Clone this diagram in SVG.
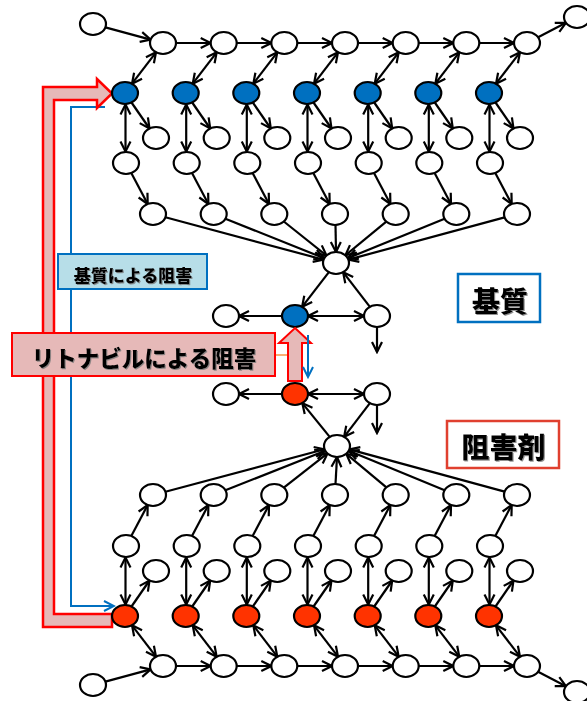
<svg xmlns="http://www.w3.org/2000/svg" width="587" height="701" viewBox="0 0 587 701">
<style>
.n{fill:#fff;stroke:#000;stroke-width:2.2}
.b{fill:#0070c0;stroke:#000;stroke-width:2.2}
.r{fill:#ff3300;stroke:#000;stroke-width:2.2}
.e line{stroke:#000;stroke-width:2.2;fill:none}
.s{marker-end:url(#ah)}
.d{marker-start:url(#ah);marker-end:url(#ah)}
.jp{font-family:"Noto Sans CJK JP","Noto Sans CJK SC",sans-serif;font-weight:900;fill:#000;text-anchor:middle;dominant-baseline:central;filter:url(#sh)}
</style>
<defs>
<filter id="sh" x="-10%" y="-20%" width="120%" height="140%"><feDropShadow dx="1" dy="1" stdDeviation="0.6" flood-color="#777" flood-opacity="0.8"/></filter>
<marker id="ah" viewBox="0 0 13 13" refX="11.5" refY="6.5" markerWidth="13" markerHeight="13" markerUnits="userSpaceOnUse" orient="auto-start-reverse"><path d="M1.5,1.5 L11.5,6.5 L1.5,11.5" fill="none" stroke="#000" stroke-width="2.2"/></marker>
<marker id="bh" viewBox="0 0 13 13" refX="11.5" refY="6.5" markerWidth="13" markerHeight="13" markerUnits="userSpaceOnUse" orient="auto"><path d="M1.5,1.5 L11.5,6.5 L1.5,11.5" fill="none" stroke="#0070c0" stroke-width="2"/></marker>
</defs>
<rect width="587" height="701" fill="#fff"/>

<!-- inhibition arrows (background) -->
<g id="substrate-inhibition-line">
<polyline points="105,107 71,107 71,606 114,606" fill="none" stroke="#0070c0" stroke-width="2" marker-end="url(#bh)"/>
</g>
<g id="ritonavir-arrow">
<polygon points="43,87 97,87 97,79 112,93.5 97,108 97,100 54,100 54,614 112,614 112,627 43,627" fill="#e6b9b8" stroke="#ff0000" stroke-width="2.5" stroke-linejoin="miter"/>
</g>

<!-- connectors -->
<g class="e" id="connectors">
<!-- top chain -->
<line class="s" x1="105.4" y1="27.4" x2="150.6" y2="39.6"/>
<line class="s" x1="176" y1="43" x2="210.7" y2="43"/>
<line class="s" x1="236.7" y1="43" x2="271.3" y2="43"/>
<line class="s" x1="297.3" y1="43" x2="332" y2="43"/>
<line class="s" x1="358" y1="43" x2="392.7" y2="43"/>
<line class="s" x1="418.7" y1="43" x2="453.3" y2="43"/>
<line class="s" x1="479.3" y1="43" x2="514" y2="43"/>
<line class="s" x1="538.1" y1="37.2" x2="565.9" y2="22.8"/>
<!-- A<->B top -->
<line class="d" x1="156" y1="52.3" x2="132" y2="83.7"/>
<line class="d" x1="216.7" y1="52.3" x2="192.7" y2="83.7"/>
<line class="d" x1="277.3" y1="52.3" x2="253.3" y2="83.7"/>
<line class="d" x1="338" y1="52.3" x2="314" y2="83.7"/>
<line class="d" x1="398.7" y1="52.3" x2="374.7" y2="83.7"/>
<line class="d" x1="459.3" y1="52.3" x2="435.3" y2="83.7"/>
<line class="d" x1="520" y1="52.3" x2="496" y2="83.7"/>
<!-- B<->D top -->
<line class="d" x1="125.5" y1="104.5" x2="125.5" y2="151.5"/>
<line class="d" x1="186.2" y1="104.5" x2="186.2" y2="151.5"/>
<line class="d" x1="246.8" y1="104.5" x2="246.8" y2="151.5"/>
<line class="d" x1="307.5" y1="104.5" x2="307.5" y2="151.5"/>
<line class="d" x1="368.2" y1="104.5" x2="368.2" y2="151.5"/>
<line class="d" x1="428.8" y1="104.5" x2="428.8" y2="151.5"/>
<line class="d" x1="489.5" y1="104.5" x2="489.5" y2="151.5"/>
<!-- B->C top -->
<line class="s" x1="131.5" y1="102.5" x2="149.5" y2="128.5"/>
<line class="s" x1="192.2" y1="102.5" x2="210.2" y2="128.5"/>
<line class="s" x1="252.8" y1="102.5" x2="270.8" y2="128.5"/>
<line class="s" x1="313.5" y1="102.5" x2="331.5" y2="128.5"/>
<line class="s" x1="374.2" y1="102.5" x2="392.2" y2="128.5"/>
<line class="s" x1="434.8" y1="102.5" x2="452.8" y2="128.5"/>
<line class="s" x1="495.5" y1="102.5" x2="513.5" y2="128.5"/>
<!-- D->E top -->
<line class="s" x1="131.3" y1="173" x2="147.7" y2="204"/>
<line class="s" x1="192" y1="173" x2="208.4" y2="204"/>
<line class="s" x1="252.6" y1="173" x2="269" y2="204"/>
<line class="s" x1="313.3" y1="173" x2="329.7" y2="204"/>
<line class="s" x1="374" y1="173" x2="390.4" y2="204"/>
<line class="s" x1="434.6" y1="173" x2="451" y2="204"/>
<line class="s" x1="495.3" y1="173" x2="511.7" y2="204"/>
<!-- E->N top -->
<line class="s" x1="165.4" y1="217.3" x2="323.6" y2="259.7"/>
<line class="s" x1="225.4" y1="218.7" x2="324.3" y2="258.3"/>
<line class="s" x1="283.8" y1="221.5" x2="326.5" y2="255.5"/>
<line class="s" x1="335.5" y1="225" x2="336" y2="252"/>
<line class="s" x1="386.3" y1="221.7" x2="345.4" y2="255.3"/>
<line class="s" x1="444.6" y1="218.8" x2="347.7" y2="258.2"/>
<line class="s" x1="504.6" y1="217.4" x2="348.4" y2="259.6"/>
<!-- middle top -->
<line class="s" x1="328.9" y1="272.2" x2="302.1" y2="306.8"/>
<line class="d" x1="308" y1="316" x2="364" y2="316"/>
<line class="s" x1="282" y1="316" x2="239" y2="316"/>
<line class="s" x1="369.9" y1="306.8" x2="343.1" y2="272.2"/>
<line class="s" x1="377" y1="327" x2="377" y2="352"/>
<!-- middle bottom -->
<line class="s" x1="329.7" y1="436.9" x2="302.3" y2="403.1"/>
<line class="d" x1="308" y1="394" x2="364" y2="394"/>
<line class="s" x1="282" y1="394" x2="239" y2="394"/>
<line class="s" x1="369.9" y1="403.2" x2="344.1" y2="436.8"/>
<line class="s" x1="377" y1="405" x2="377" y2="433"/>
<!-- E'->N' bottom -->
<line class="s" x1="165.4" y1="491.7" x2="324.6" y2="449.3"/>
<line class="s" x1="225.4" y1="490.3" x2="325.2" y2="450.7"/>
<line class="s" x1="283.8" y1="487.6" x2="327.5" y2="453.4"/>
<line class="s" x1="335.5" y1="484" x2="337" y2="457"/>
<line class="s" x1="386.4" y1="487.3" x2="346.3" y2="453.8"/>
<line class="s" x1="444.6" y1="490.2" x2="348.7" y2="450.8"/>
<line class="s" x1="504.6" y1="491.6" x2="349.4" y2="449.4"/>
<!-- D'->E' bottom -->
<line class="s" x1="131.3" y1="536" x2="147.7" y2="505"/>
<line class="s" x1="192" y1="536" x2="208.4" y2="505"/>
<line class="s" x1="252.6" y1="536" x2="269" y2="505"/>
<line class="s" x1="313.3" y1="536" x2="329.7" y2="505"/>
<line class="s" x1="374" y1="536" x2="390.4" y2="505"/>
<line class="s" x1="434.6" y1="536" x2="451" y2="505"/>
<line class="s" x1="495.3" y1="536" x2="511.7" y2="505"/>
<!-- B'<->D' bottom -->
<line class="d" x1="125.5" y1="604.5" x2="125.5" y2="557.5"/>
<line class="d" x1="186.2" y1="604.5" x2="186.2" y2="557.5"/>
<line class="d" x1="246.8" y1="604.5" x2="246.8" y2="557.5"/>
<line class="d" x1="307.5" y1="604.5" x2="307.5" y2="557.5"/>
<line class="d" x1="368.2" y1="604.5" x2="368.2" y2="557.5"/>
<line class="d" x1="428.8" y1="604.5" x2="428.8" y2="557.5"/>
<line class="d" x1="489.5" y1="604.5" x2="489.5" y2="557.5"/>
<!-- B'->C' bottom -->
<line class="s" x1="131.5" y1="606.5" x2="149.5" y2="580.5"/>
<line class="s" x1="192.2" y1="606.5" x2="210.2" y2="580.5"/>
<line class="s" x1="252.8" y1="606.5" x2="270.8" y2="580.5"/>
<line class="s" x1="313.5" y1="606.5" x2="331.5" y2="580.5"/>
<line class="s" x1="374.2" y1="606.5" x2="392.2" y2="580.5"/>
<line class="s" x1="434.8" y1="606.5" x2="452.8" y2="580.5"/>
<line class="s" x1="495.5" y1="606.5" x2="513.5" y2="580.5"/>
<!-- A'<->B' bottom -->
<line class="d" x1="156" y1="656.7" x2="132" y2="625.3"/>
<line class="d" x1="216.7" y1="656.7" x2="192.7" y2="625.3"/>
<line class="d" x1="277.3" y1="656.7" x2="253.3" y2="625.3"/>
<line class="d" x1="338" y1="656.7" x2="314" y2="625.3"/>
<line class="d" x1="398.7" y1="656.7" x2="374.7" y2="625.3"/>
<line class="d" x1="459.3" y1="656.7" x2="435.3" y2="625.3"/>
<line class="d" x1="520" y1="656.7" x2="496" y2="625.3"/>
<!-- bottom chain -->
<line class="s" x1="105.4" y1="681.6" x2="150.6" y2="669.4"/>
<line class="s" x1="176" y1="666" x2="210.7" y2="666"/>
<line class="s" x1="236.7" y1="666" x2="271.3" y2="666"/>
<line class="s" x1="297.3" y1="666" x2="332" y2="666"/>
<line class="s" x1="358" y1="666" x2="392.7" y2="666"/>
<line class="s" x1="418.7" y1="666" x2="453.3" y2="666"/>
<line class="s" x1="479.3" y1="666" x2="514" y2="666"/>
<line class="s" x1="538.1" y1="671.8" x2="565.9" y2="686.2"/>
</g>

<!-- top nodes -->
<g id="s0"><ellipse class="n" cx="93" cy="24" rx="13" ry="11"/></g>
<g id="a1"><ellipse class="n" cx="163" cy="43" rx="13" ry="11"/></g>
<g id="a2"><ellipse class="n" cx="223.7" cy="43" rx="13" ry="11"/></g>
<g id="a3"><ellipse class="n" cx="284.3" cy="43" rx="13" ry="11"/></g>
<g id="a4"><ellipse class="n" cx="345" cy="43" rx="13" ry="11"/></g>
<g id="a5"><ellipse class="n" cx="405.7" cy="43" rx="13" ry="11"/></g>
<g id="a6"><ellipse class="n" cx="466.3" cy="43" rx="13" ry="11"/></g>
<g id="a7"><ellipse class="n" cx="527" cy="43" rx="13" ry="11"/></g>
<g id="t0"><ellipse class="n" cx="577" cy="17" rx="13" ry="11"/></g>
<g id="b1"><ellipse class="b" cx="125" cy="93" rx="13" ry="11"/></g>
<g id="b2"><ellipse class="b" cx="185.7" cy="93" rx="13" ry="11"/></g>
<g id="b3"><ellipse class="b" cx="246.3" cy="93" rx="13" ry="11"/></g>
<g id="b4"><ellipse class="b" cx="307" cy="93" rx="13" ry="11"/></g>
<g id="b5"><ellipse class="b" cx="367.7" cy="93" rx="13" ry="11"/></g>
<g id="b6"><ellipse class="b" cx="428.3" cy="93" rx="13" ry="11"/></g>
<g id="b7"><ellipse class="b" cx="489" cy="93" rx="13" ry="11"/></g>
<g id="c1"><ellipse class="n" cx="156" cy="138" rx="13" ry="11"/></g>
<g id="c2"><ellipse class="n" cx="216.7" cy="138" rx="13" ry="11"/></g>
<g id="c3"><ellipse class="n" cx="277.3" cy="138" rx="13" ry="11"/></g>
<g id="c4"><ellipse class="n" cx="338" cy="138" rx="13" ry="11"/></g>
<g id="c5"><ellipse class="n" cx="398.7" cy="138" rx="13" ry="11"/></g>
<g id="c6"><ellipse class="n" cx="459.3" cy="138" rx="13" ry="11"/></g>
<g id="c7"><ellipse class="n" cx="520" cy="138" rx="13" ry="11"/></g>
<g id="d1"><ellipse class="n" cx="126" cy="163" rx="13" ry="11"/></g>
<g id="d2"><ellipse class="n" cx="186.7" cy="163" rx="13" ry="11"/></g>
<g id="d3"><ellipse class="n" cx="247.3" cy="163" rx="13" ry="11"/></g>
<g id="d4"><ellipse class="n" cx="308" cy="163" rx="13" ry="11"/></g>
<g id="d5"><ellipse class="n" cx="368.7" cy="163" rx="13" ry="11"/></g>
<g id="d6"><ellipse class="n" cx="429.3" cy="163" rx="13" ry="11"/></g>
<g id="d7"><ellipse class="n" cx="490" cy="163" rx="13" ry="11"/></g>
<g id="e1"><ellipse class="n" cx="153" cy="214" rx="13" ry="11"/></g>
<g id="e2"><ellipse class="n" cx="213.7" cy="214" rx="13" ry="11"/></g>
<g id="e3"><ellipse class="n" cx="274.3" cy="214" rx="13" ry="11"/></g>
<g id="e4"><ellipse class="n" cx="335" cy="214" rx="13" ry="11"/></g>
<g id="e5"><ellipse class="n" cx="395.7" cy="214" rx="13" ry="11"/></g>
<g id="e6"><ellipse class="n" cx="456.3" cy="214" rx="13" ry="11"/></g>
<g id="e7"><ellipse class="n" cx="517" cy="214" rx="13" ry="11"/></g>
<g id="n-top"><ellipse class="n" cx="336" cy="263" rx="13" ry="11"/></g>
<!-- middle -->
<g id="m-blue"><ellipse class="b" cx="295" cy="316" rx="13" ry="11"/></g>
<g id="l-top"><ellipse class="n" cx="226" cy="316" rx="13" ry="11"/></g>
<g id="r-top"><ellipse class="n" cx="377" cy="316" rx="13" ry="11"/></g>
<g id="m-red"><ellipse class="r" cx="295" cy="394" rx="13" ry="11"/></g>
<g id="l-bot"><ellipse class="n" cx="226" cy="394" rx="13" ry="11"/></g>
<g id="r-bot"><ellipse class="n" cx="377" cy="394" rx="13" ry="11"/></g>
<g id="n-bot"><ellipse class="n" cx="337" cy="446" rx="13" ry="11"/></g>
<!-- bottom nodes -->
<g id="e1b"><ellipse class="n" cx="153" cy="495" rx="13" ry="11"/></g>
<g id="e2b"><ellipse class="n" cx="213.7" cy="495" rx="13" ry="11"/></g>
<g id="e3b"><ellipse class="n" cx="274.3" cy="495" rx="13" ry="11"/></g>
<g id="e4b"><ellipse class="n" cx="335" cy="495" rx="13" ry="11"/></g>
<g id="e5b"><ellipse class="n" cx="395.7" cy="495" rx="13" ry="11"/></g>
<g id="e6b"><ellipse class="n" cx="456.3" cy="495" rx="13" ry="11"/></g>
<g id="e7b"><ellipse class="n" cx="517" cy="495" rx="13" ry="11"/></g>
<g id="d1b"><ellipse class="n" cx="126" cy="546" rx="13" ry="11"/></g>
<g id="d2b"><ellipse class="n" cx="186.7" cy="546" rx="13" ry="11"/></g>
<g id="d3b"><ellipse class="n" cx="247.3" cy="546" rx="13" ry="11"/></g>
<g id="d4b"><ellipse class="n" cx="308" cy="546" rx="13" ry="11"/></g>
<g id="d5b"><ellipse class="n" cx="368.7" cy="546" rx="13" ry="11"/></g>
<g id="d6b"><ellipse class="n" cx="429.3" cy="546" rx="13" ry="11"/></g>
<g id="d7b"><ellipse class="n" cx="490" cy="546" rx="13" ry="11"/></g>
<g id="c1b"><ellipse class="n" cx="156" cy="571" rx="13" ry="11"/></g>
<g id="c2b"><ellipse class="n" cx="216.7" cy="571" rx="13" ry="11"/></g>
<g id="c3b"><ellipse class="n" cx="277.3" cy="571" rx="13" ry="11"/></g>
<g id="c4b"><ellipse class="n" cx="338" cy="571" rx="13" ry="11"/></g>
<g id="c5b"><ellipse class="n" cx="398.7" cy="571" rx="13" ry="11"/></g>
<g id="c6b"><ellipse class="n" cx="459.3" cy="571" rx="13" ry="11"/></g>
<g id="c7b"><ellipse class="n" cx="520" cy="571" rx="13" ry="11"/></g>
<g id="b1b"><ellipse class="r" cx="125" cy="616" rx="13" ry="11"/></g>
<g id="b2b"><ellipse class="r" cx="185.7" cy="616" rx="13" ry="11"/></g>
<g id="b3b"><ellipse class="r" cx="246.3" cy="616" rx="13" ry="11"/></g>
<g id="b4b"><ellipse class="r" cx="307" cy="616" rx="13" ry="11"/></g>
<g id="b5b"><ellipse class="r" cx="367.7" cy="616" rx="13" ry="11"/></g>
<g id="b6b"><ellipse class="r" cx="428.3" cy="616" rx="13" ry="11"/></g>
<g id="b7b"><ellipse class="r" cx="489" cy="616" rx="13" ry="11"/></g>
<g id="a1b"><ellipse class="n" cx="163" cy="666" rx="13" ry="11"/></g>
<g id="a2b"><ellipse class="n" cx="223.7" cy="666" rx="13" ry="11"/></g>
<g id="a3b"><ellipse class="n" cx="284.3" cy="666" rx="13" ry="11"/></g>
<g id="a4b"><ellipse class="n" cx="345" cy="666" rx="13" ry="11"/></g>
<g id="a5b"><ellipse class="n" cx="405.7" cy="666" rx="13" ry="11"/></g>
<g id="a6b"><ellipse class="n" cx="466.3" cy="666" rx="13" ry="11"/></g>
<g id="a7b"><ellipse class="n" cx="527" cy="666" rx="13" ry="11"/></g>
<g id="s0b"><ellipse class="n" cx="93" cy="685" rx="13" ry="11"/></g>
<g id="t0b"><ellipse class="n" cx="577" cy="692" rx="13" ry="11"/></g>

<!-- middle inhibition arrows -->
<g id="ritonavir-mid-arrow">
<line x1="275" y1="355" x2="288" y2="355" stroke="#f79646" stroke-width="1.5"/>
<polygon points="295,328 311,343 302,343 302,381 288,381 288,343 279,343" fill="#e6b9b8" stroke="#ff0000" stroke-width="2"/>
</g>
<g id="substrate-mid-arrow">
<line x1="308" y1="335" x2="308" y2="377" stroke="#0070c0" stroke-width="2" marker-end="url(#bh)"/>
</g>

<!-- labels -->
<g id="label-substrate-inhibition">
<rect x="58" y="254" width="149" height="35" fill="#b7dee8" stroke="#0070c0" stroke-width="2"/>
<text class="jp" x="133" y="274" font-size="17">基質による阻害</text>
</g>
<g id="label-ritonavir">
<rect x="12" y="333" width="263" height="43" fill="#e6b9b8" stroke="#ff0000" stroke-width="2"/>
<text class="jp" x="144" y="357" font-size="22.5">リトナビルによる阻害</text>
</g>
<g id="label-substrate">
<rect x="458" y="274" width="82" height="48" fill="#fff" stroke="#0070c0" stroke-width="2.5"/>
<text class="jp" x="500" y="300" font-size="28">基質</text>
</g>
<g id="label-inhibitor">
<rect x="447" y="421" width="112" height="47" fill="#fff" stroke="#e0402f" stroke-width="2.5"/>
<text class="jp" x="503.5" y="446" font-size="28">阻害剤</text>
</g>
</svg>
